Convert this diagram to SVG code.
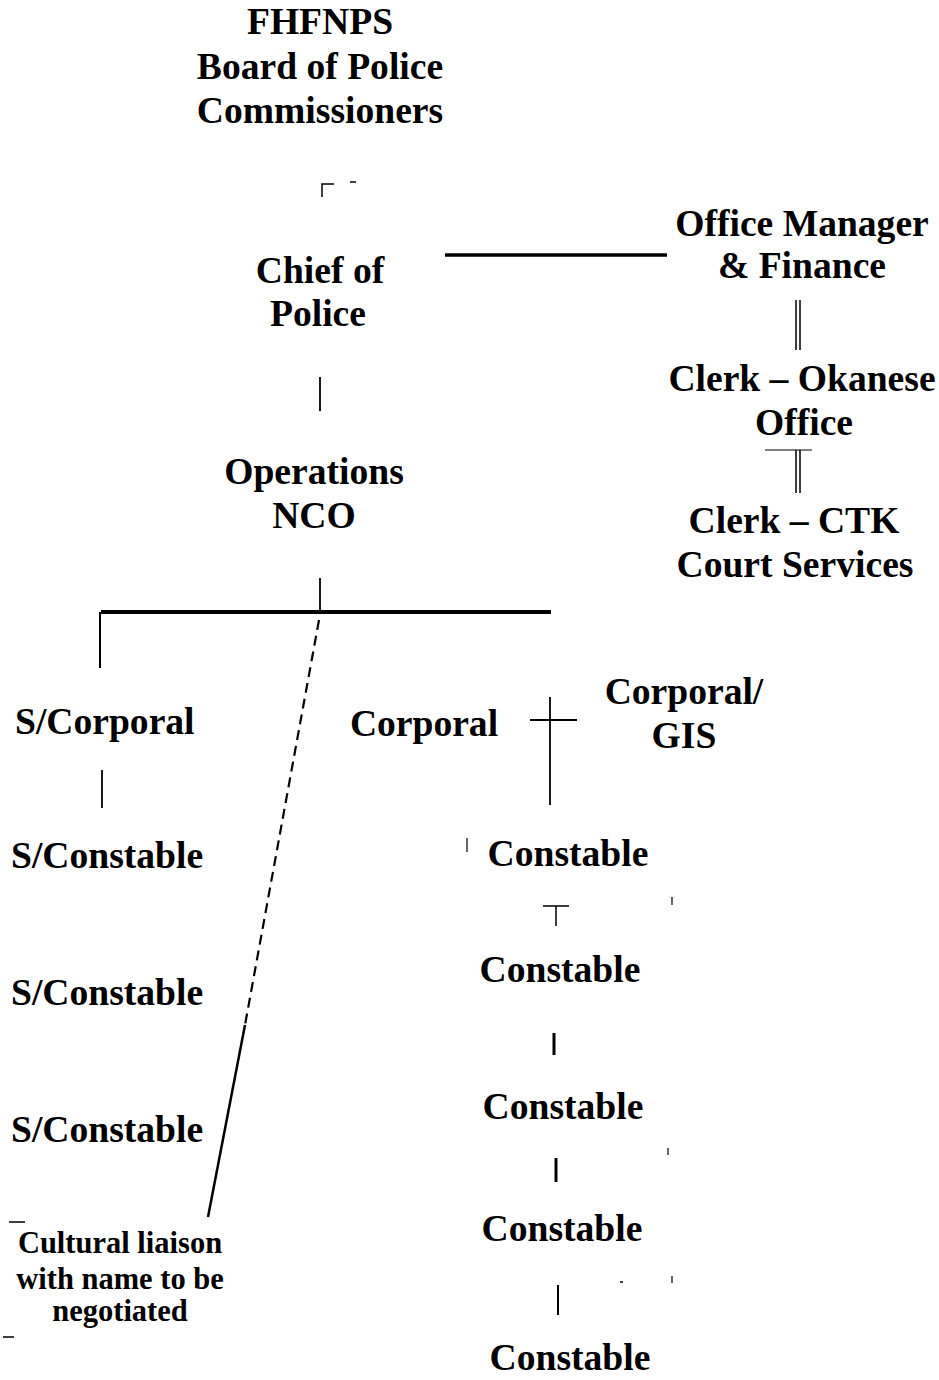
<svg xmlns="http://www.w3.org/2000/svg" width="939" height="1380" viewBox="0 0 939 1380">
<style>
text{font-family:"Liberation Serif","Times New Roman",serif;font-weight:bold;fill:#000;font-size:37.6px}
.c{text-anchor:middle}
.s{font-size:30.5px}
.ln{stroke:#000;fill:none}
</style>
<rect width="939" height="1380" fill="#fff"/>
<g id="connectors" class="ln">
<path d="M322,197V184H334M350,182H356" stroke-width="1.5"/>
<path d="M445,255H667" stroke-width="3.5"/>
<path d="M796,300V350M800,300V350" stroke-width="1.5"/>
<path d="M765,450H812" stroke-width="1.2"/>
<path d="M796,450V493M800,450V493" stroke-width="1.5"/>
<path d="M320,377V411" stroke-width="1.8"/>
<path d="M320,578V612" stroke-width="1.8"/>
<path d="M101,612H551" stroke-width="4"/>
<path d="M100,612V668" stroke-width="2"/>
<path d="M319,620L245,1025" stroke-width="2.2" stroke-dasharray="10,6"/>
<path d="M245,1025L208,1217" stroke-width="2.5"/>
<path d="M102,770V808" stroke-width="1.8"/>
<path d="M550,697V805M530,720H577" stroke-width="1.8"/>
<path d="M467,838V852" stroke-width="1.2"/>
<path d="M543,906H569M556,906V926" stroke-width="1.5"/>
<path d="M672,897V905M668,1148V1155M672,1276V1283" stroke-width="1.2"/>
<path d="M554,1033V1055" stroke-width="3"/>
<path d="M556,1158V1182" stroke-width="3"/>
<path d="M558,1285V1315" stroke-width="2"/>
<path d="M620,1282H623" stroke-width="1.5"/>
<path d="M9,1222H25M3,1337H14" stroke-width="1.5"/>
</g>
<g id="board"><text class="c" x="320" y="34">FHFNPS</text><text class="c" x="320" y="79">Board of Police</text><text class="c" x="320" y="123">Commissioners</text></g>
<g id="chief"><text class="c" x="320" y="283">Chief of</text><text class="c" x="318" y="326">Police</text></g>
<g id="office-manager"><text class="c" x="802" y="236">Office Manager</text><text class="c" x="802" y="278">&amp; Finance</text></g>
<g id="clerk-okanese"><text class="c" x="802" y="391">Clerk – Okanese</text><text class="c" x="804" y="435">Office</text></g>
<g id="clerk-ctk"><text class="c" x="794" y="533">Clerk – CTK</text><text class="c" x="795" y="577">Court Services</text></g>
<g id="operations"><text class="c" x="314" y="484">Operations</text><text class="c" x="314" y="528">NCO</text></g>
<g id="s-corporal"><text x="15" y="734">S/Corporal</text></g>
<g id="corporal"><text class="c" x="424" y="736">Corporal</text></g>
<g id="corporal-gis"><text class="c" x="684" y="704">Corporal/</text><text class="c" x="684" y="748">GIS</text></g>
<g id="s-constable-1"><text x="11" y="868">S/Constable</text></g>
<g id="s-constable-2"><text x="11" y="1005">S/Constable</text></g>
<g id="s-constable-3"><text x="11" y="1142">S/Constable</text></g>
<g id="cultural-liaison"><text class="c s" x="120" y="1253">Cultural liaison</text><text class="c s" x="120" y="1289">with name to be</text><text class="c s" x="120" y="1321">negotiated</text></g>
<g id="constable-1"><text class="c" x="568" y="866">Constable</text></g>
<g id="constable-2"><text class="c" x="560" y="982">Constable</text></g>
<g id="constable-3"><text class="c" x="563" y="1119">Constable</text></g>
<g id="constable-4"><text class="c" x="562" y="1241">Constable</text></g>
<g id="constable-5"><text class="c" x="570" y="1370">Constable</text></g>
</svg>
